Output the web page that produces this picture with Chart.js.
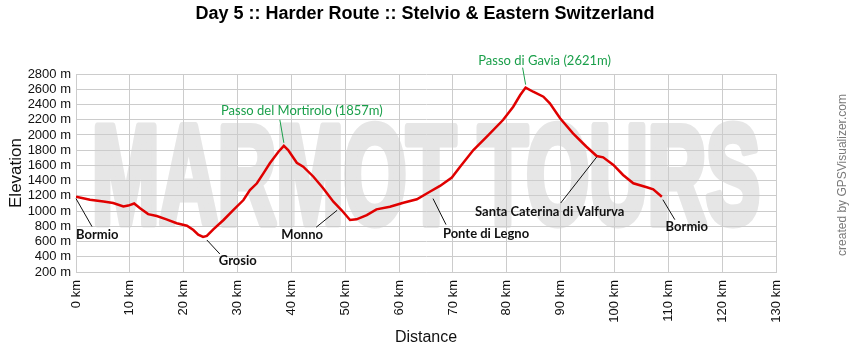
<!DOCTYPE html>
<html>
<head>
<meta charset="utf-8">
<script src="https://cdn.jsdelivr.net/npm/chart.js@4/dist/chart.umd.min.js"></script>
<style>
	html, body { margin: 0; padding: 0; background: #fff; }
</style>
</head>
<body>
<canvas id="profile" width="850" height="350"></canvas>
<script>
// elevation profile
const distances = [
	0, 2.6, 5.1, 6.9, 8.8, 9.7, 10.8, 11.9, 13.4, 15.0, 16.8, 18.7, 20.6, 21.8, 22.7, 23.6, 24.3,
	25.5, 27.4, 29.2, 31.1, 32.3, 33.6, 34.8, 36.0, 37.6, 38.6, 39.4, 41.0, 42.2, 44.1, 45.9,
	47.8, 49.3, 50.9, 52.1, 54.0, 55.8, 58.3, 60.8, 63.3, 65.7, 67.6, 69.8, 71.3, 73.8, 76.3,
	79.3, 81.2, 82.5, 83.5, 84.9, 86.8, 88.0, 89.9, 92.3, 94.8, 96.7, 97.9, 99.8, 101.6, 103.5,
	106.0, 107.2, 108.8,
];
const elevations = [
	1190, 1150, 1125, 1105, 1060, 1072, 1100, 1036, 960, 935, 892, 840, 808, 751, 690, 660, 673,
	761, 883, 1014, 1145, 1277, 1365, 1496, 1627, 1780, 1857, 1802, 1635, 1583, 1451, 1299,
	1123, 1014, 883, 892, 948, 1023, 1057, 1110, 1155, 1254, 1330, 1440, 1580, 1802, 1977,
	2196, 2370, 2524, 2621, 2567, 2502, 2415, 2218, 2021, 1845, 1723, 1706, 1605, 1474, 1365,
	1312, 1286, 1189,
];

const xTicks = [0, 10, 20, 30, 40, 50, 60, 70, 80, 90, 100, 110, 120, 130];
const yTicks = [200, 400, 600, 800, 1000, 1200, 1400, 1600, 1800, 2000, 2200, 2400, 2600, 2800];

const placeNames = ['Bormio', 'Grosio', 'Monno', 'Ponte di Legno', 'Santa Caterina di Valfurva', 'Bormio'];
const placeKm = [0, 24.3, 48.5, 66.3, 96.7, 108.8];
const placeElevation = [1190, 660, 1050, 1190, 1723, 1189];

const passNames = ['Passo del Mortirolo (1857m)', 'Passo di Gavia (2621m)'];
const passKm = [38.6, 83.5];
const passElevation = [1857, 2621];

const titleText = 'Day 5 :: Harder Route :: Stelvio & Eastern Switzerland';

const watermark = {
	id: 'watermark',
	beforeDraw(chart) {
		const { ctx, chartArea } = chart;
		ctx.save();
		ctx.fillStyle = '#e6e6e6';
		ctx.strokeStyle = '#e6e6e6';
		ctx.lineWidth = 9;
		ctx.lineJoin = 'round';
		ctx.font = 'bold 139px "Liberation Sans Narrow", "Liberation Sans"';
		ctx.textBaseline = 'alphabetic';
		const x = chartArea.left + 16,
			y = chartArea.top + 149;
		ctx.fillText('MARMOT TOURS', x, y, 668);
		ctx.strokeText('MARMOT TOURS', x, y, 668);
		ctx.restore();
	},
	afterDraw(chart) {
		const ctx = chart.ctx;
		ctx.save();
		ctx.translate(843, 175);
		ctx.rotate(-Math.PI / 2);
		ctx.fillStyle = '#7a7a7a';
		ctx.font = '12px "Liberation Sans"';
		ctx.textAlign = 'center';
		ctx.textBaseline = 'middle';
		ctx.fillText('created by GPSVisualizer.com', 0, 0);
		ctx.restore();
	},
};

// leader line start, leader line end, text centre (relative to the point), text align
const placeLeaders = [
	[0, 2, 16, 30, 0, 38, 'left'],
	[0, 3, 13, 17, 12, 24, 'left'],
	[0, 3, -21, 20, -35, 28, 'center'],
	[0, 2, 13, 28, 53, 37, 'center'],
	[0, 1, -36, 47, -47, 56, 'center'],
	[1, 3, 13, 23, 25, 30, 'center'],
];
const passLeaders = [
	[0, -3, -4, -26, 18, -35, 'center'],
	[0, -3, -3, -20, 19, -27, 'center'],
];

function drawLabel(ctx, x, y, text, leader, color, font) {
	const [sx, sy, ex, ey, tx, ty, align] = leader;
	ctx.strokeStyle = color;
	ctx.lineWidth = 1;
	ctx.beginPath();
	ctx.moveTo(x + sx, y + sy);
	ctx.lineTo(x + ex, y + ey);
	ctx.stroke();
	ctx.fillStyle = color;
	ctx.font = font;
	ctx.textAlign = align;
	ctx.textBaseline = 'middle';
	ctx.fillText(text, x + tx, y + ty);
}

const landmarks = {
	id: 'landmarks',
	afterDatasetsDraw(chart) {
		const { ctx, scales } = chart;
		ctx.save();
		placeNames.forEach((name, i) => {
			const x = scales.x.getPixelForValue(placeKm[i]);
			const y = scales.y.getPixelForValue(placeElevation[i]);
			drawLabel(ctx, x, y, name, placeLeaders[i], '#111', 'bold 13px Lato');
		});
		passNames.forEach((name, i) => {
			const x = scales.x.getPixelForValue(passKm[i]);
			const y = scales.y.getPixelForValue(passElevation[i]);
			drawLabel(ctx, x, y, name, passLeaders[i], '#1a9f4a', '13px Lato');
		});
		ctx.restore();
	},
};

Chart.defaults.font.family = '"Liberation Sans", Arial, sans-serif';
Chart.defaults.color = '#111';

new Chart(document.getElementById('profile'), {
	type: 'line',
	data: {
		datasets: [
			{
				data: distances.map((d, i) => ({ x: d, y: elevations[i] })),
				borderColor: '#e00000',
				borderWidth: 2.5,
				pointRadius: 0,
				tension: 0,
			},
		],
	},
	options: {
		responsive: false,
		animation: false,
		devicePixelRatio: 1,
		layout: {
			padding: 0,
		},
		plugins: {
			legend: { display: false },
			tooltip: { enabled: false },
			title: {
				display: true,
				text: titleText,
				color: '#000',
				font: { size: 18, weight: 'bold' },
				padding: { top: 3, bottom: 49.4 },
			},
		},
		scales: {
			x: {
				type: 'linear',
				min: 0,
				max: 130,
				afterBuildTicks: (axis) => {
					axis.ticks = xTicks.map((v) => ({ value: v }));
				},
				afterFit: (axis) => {
					axis.height = 78;
				},
				ticks: {
					callback: (v) => v + ' km',
					autoSkip: false,
					minRotation: 90,
					maxRotation: 90,
					padding: 8,
					font: { size: 13 },
				},
				grid: { color: '#cccccc', drawTicks: false },
				border: { color: '#cccccc' },
				title: {
					display: true,
					text: 'Distance',
					color: '#111',
					font: { size: 16 },
					padding: { top: 0, bottom: 3 },
				},
			},
			y: {
				min: 200,
				max: 2800,
				afterBuildTicks: (axis) => {
					axis.ticks = yTicks.map((v) => ({ value: v }));
				},
				afterFit: (axis) => {
					axis.width = 76;
				},
				ticks: {
					callback: (v) => v + ' m',
					autoSkip: false,
					padding: 5,
					font: { size: 13 },
				},
				grid: { color: '#cccccc', drawTicks: false },
				border: { color: '#cccccc' },
				title: {
					display: true,
					text: 'Elevation',
					color: '#111',
					font: { size: 17 },
					padding: { top: 6, bottom: 0 },
				},
			},
			// empty strip on the right for the credit text
			side: {
				position: 'right',
				afterFit: (axis) => {
					axis.width = 74;
				},
				ticks: { display: false },
				grid: { display: false },
				border: { display: false },
			},
		},
	},
	plugins: [watermark, landmarks],
});
</script>
</body>
</html>
